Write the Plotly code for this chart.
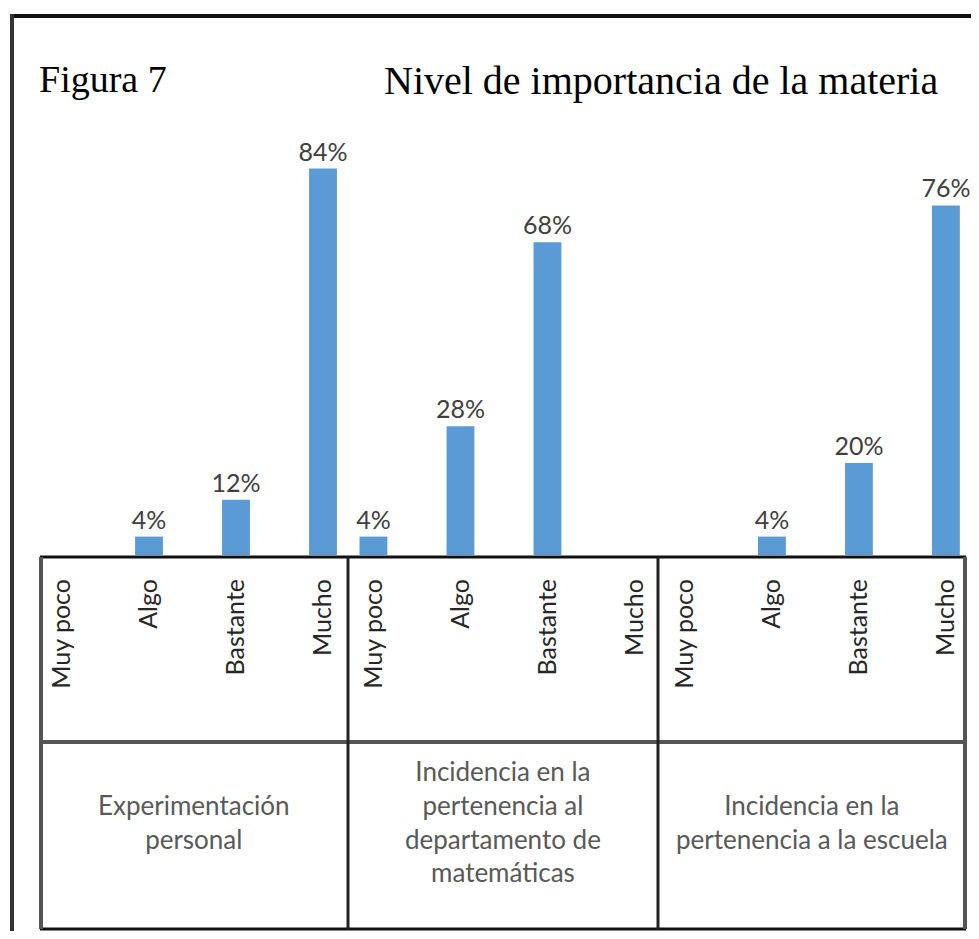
import plotly.graph_objects as go

# ---------------- data ----------------
groups = [
    "Experimentación<br>personal",
    "Incidencia en la<br>pertenencia al<br>departamento de<br>matemáticas",
    "Incidencia en la<br>pertenencia a la escuela",
]
levels = ["Muy poco", "Algo", "Bastante", "Mucho"]
exp_personal = [0, 4, 12, 84]
inc_departamento = [4, 28, 68, 0]
inc_escuela = [0, 4, 20, 76]
series = [exp_personal, inc_departamento, inc_escuela]

fig_label = "Figura 7"
title_text = "Nivel de importancia de la materia"

# ---------------- layout constants (page pixels) ----------------
OFF = 8                    # default body margin of the html page
W, H = 979 - 2 * OFF, 939 - 2 * OFF
PL, PR = 40, 966           # plot area left/right in page px
PB, PT = 555, 95           # plot area bottom/top in page px
GROUP_STEP = 3.58          # category units between group starts
BAR_COLOR = "#5B9BD5"


def xp(px):
    return (px - PL) / (PR - PL)


def yp(py):
    return (PB - py) / (PB - PT)


xs, ys, texts, tickvals, ticktext = [], [], [], [], []
for g, vals in enumerate(series):
    for s, lvl in enumerate(levels):
        pos = g * GROUP_STEP + s
        xs.append(pos)
        ys.append(vals[s])
        texts.append(f"{vals[s]}%" if vals[s] > 0 else "")
        tickvals.append(pos)
        ticktext.append(lvl)

fig = go.Figure()
fig.add_trace(go.Bar(
    x=xs, y=ys, text=texts, textposition="outside", constraintext="none",
    width=0.32, marker=dict(color=BAR_COLOR, line=dict(width=0)),
    textfont=dict(family="Lato", size=25, color="#404040"),
    cliponaxis=False, hoverinfo="skip",
))

fig.update_layout(
    width=W, height=H,
    margin=dict(l=PL - OFF, r=W - (PR - OFF), t=PT - OFF, b=H - (PB - OFF), pad=0),
    paper_bgcolor="white", plot_bgcolor="white",
    showlegend=False,
    xaxis=dict(
        range=[(PL - 62) / 87.0, (PR - 62) / 87.0],
        tickvals=tickvals, ticktext=ticktext, tickangle=-90,
        tickfont=dict(family="Lato", size=25, color="#262626"),
        ticks="", showgrid=False, zeroline=False, showline=False,
        ticklabelstandoff=18, fixedrange=True,
    ),
    yaxis=dict(range=[0, 100], visible=False, fixedrange=True),
)

shapes = []


def hline(py, x0, x1, color, w):
    shapes.append(dict(type="line", xref="paper", yref="paper",
                       x0=xp(x0), x1=xp(x1), y0=yp(py), y1=yp(py),
                       line=dict(color=color, width=w), layer="above"))


def vline(px, y0, y1, color, w):
    shapes.append(dict(type="line", xref="paper", yref="paper",
                       x0=xp(px), x1=xp(px), y0=yp(y0), y1=yp(y1),
                       line=dict(color=color, width=w), layer="above"))


# outer frame
hline(16, 10, 979, "#111111", 4)
vline(12, 14, 939, "#333333", 4)
# table
hline(557, 40, 966, "#111111", 3)
hline(742, 40, 966, "#555555", 4)
hline(929, 40, 966, "#111111", 3)
vline(41, 557, 929, "#555555", 4)
vline(348, 557, 929, "#222222", 3)
vline(658, 557, 929, "#222222", 3)
vline(965, 557, 929, "#555555", 4)
fig.update_layout(shapes=shapes)

annotations = [
    dict(text=fig_label, x=xp(37), y=yp(79), xanchor="left", yanchor="middle",
         font=dict(family="Liberation Serif", size=38, color="black")),
    dict(text=title_text, x=xp(382), y=yp(81), xanchor="left", yanchor="middle",
         font=dict(family="Liberation Serif", size=40, color="black")),
]
centers = [194, 503, 812]
for g, name in enumerate(groups):
    annotations.append(dict(
        text=name, x=xp(centers[g]), y=yp(822), xanchor="center", yanchor="middle",
        align="center", font=dict(family="Lato", size=26, color="#595959")))
for a in annotations:
    a.update(xref="paper", yref="paper", showarrow=False)
fig.update_layout(annotations=annotations)

fig.write_html("out.html")
